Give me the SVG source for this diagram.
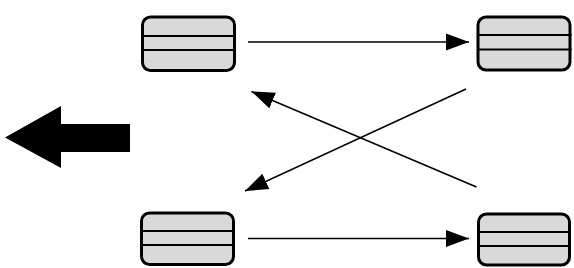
<svg xmlns="http://www.w3.org/2000/svg" width="574" height="268" viewBox="0 0 574 268">
<style>
.box{fill:#d9d9d9;stroke:#000;stroke-width:3}
.div{stroke:#000;stroke-width:2;fill:none}
.conn{stroke:#000;stroke-width:1.6;fill:none}
</style>
<defs>
<marker id="ah" markerUnits="userSpaceOnUse" markerWidth="24" markerHeight="18" refX="23" refY="8.5" orient="auto" viewBox="0 0 24 17">
<path d="M0,0 L23,8.5 L0,17 Z" fill="#000"/>
</marker>
</defs>
<rect width="574" height="268" fill="#fff"/>
<g id="bigArrow">
<polygon points="5,137.5 61,106 61,124 130,124 130,152 61,152 61,168" fill="#000"/>
</g>
<g id="node1">
<rect class="box" x="142.5" y="17" width="92" height="53.5" rx="8"/>
<line class="div" x1="142.5" y1="36" x2="236" y2="36"/>
<line class="div" x1="142.5" y1="50" x2="236" y2="50"/>
</g>
<g id="node2">
<rect class="box" x="478" y="17" width="92" height="53" rx="8"/>
<line class="div" x1="478" y1="35" x2="571.5" y2="35"/>
<line class="div" x1="478" y1="49.5" x2="571.5" y2="49.5"/>
</g>
<g id="node3">
<rect class="box" x="141.5" y="213" width="92" height="51.5" rx="8"/>
<line class="div" x1="141.5" y1="231" x2="235" y2="231"/>
<line class="div" x1="141.5" y1="245" x2="235" y2="245"/>
</g>
<g id="node4">
<rect class="box" x="478.5" y="214" width="91" height="51" rx="8"/>
<line class="div" x1="478.5" y1="232" x2="571" y2="232"/>
<line class="div" x1="478.5" y1="246" x2="571" y2="246"/>
</g>
<g id="connectors">
<line class="conn" x1="248" y1="42" x2="469" y2="42" marker-end="url(#ah)"/>
<line class="conn" x1="248" y1="238.5" x2="469" y2="238.5" marker-end="url(#ah)"/>
<line class="conn" x1="476.5" y1="187" x2="251.5" y2="91.5" marker-end="url(#ah)"/>
<line class="conn" x1="466" y1="89" x2="245" y2="191" marker-end="url(#ah)"/>
</g>
</svg>
